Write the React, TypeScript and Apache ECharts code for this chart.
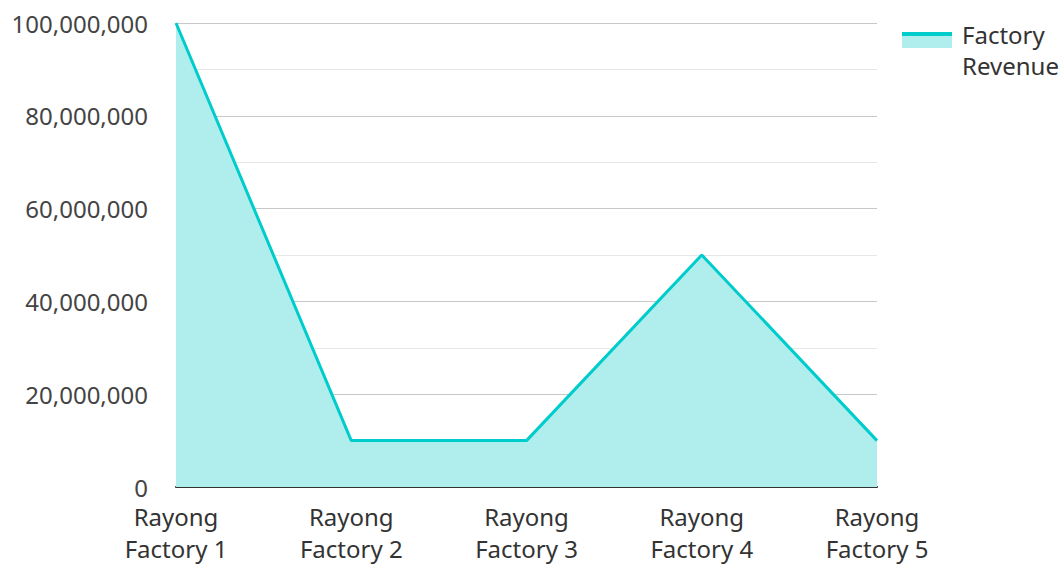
import React, { useEffect, useRef } from "react";
import * as echarts from "echarts";

const categories = [
  "Rayong\nFactory 1",
  "Rayong\nFactory 2",
  "Rayong\nFactory 3",
  "Rayong\nFactory 4",
  "Rayong\nFactory 5",
];
const revenue = [100000000, 10000000, 10000000, 50000000, 10000000];
const seriesName = "Factory Revenue";

export default function App() {
  const ref = useRef<HTMLDivElement>(null);
  useEffect(() => {
    document.body.style.margin = "0";
    const chart = echarts.init(ref.current!, null, { renderer: "svg" });
    const font = "'Noto Sans', 'Open Sans', sans-serif";
    chart.setOption({
      animation: false,
      textStyle: { fontFamily: font },
      grid: { left: 176, right: 187, top: 23, bottom: 71 },
      legend: {
        data: [seriesName],
        left: 902,
        top: 14,
        icon: "rect",
        itemWidth: 50,
        itemHeight: 62,
        itemStyle: { color: "rgba(0,0,0,0)", opacity: 0 },
        formatter: (n: string) => n.replace(" ", "\n"),
        textStyle: {
          fontSize: 24,
          color: "#333",
          lineHeight: 31,
          fontFamily: font,
        },
      },
      graphic: [
        {
          type: "rect",
          shape: { x: 902, y: 36, width: 50, height: 12 },
          style: { fill: "#b0eeee" },
          z: 100,
        },
        {
          type: "rect",
          shape: { x: 902, y: 32, width: 50, height: 4 },
          style: { fill: "#00cccc" },
          z: 100,
        },
      ],
      xAxis: {
        type: "category",
        data: categories,
        boundaryGap: false,
        axisLine: { lineStyle: { color: "#333", width: 2 } },
        axisTick: { show: false },
        axisLabel: {
          fontSize: 24,
          color: "#333",
          lineHeight: 32,
          margin: 13,
          interval: 0,
          fontFamily: font,
        },
      },
      yAxis: {
        type: "value",
        min: 0,
        max: 100000000,
        interval: 20000000,
        axisLine: { show: false },
        axisTick: { show: false },
        axisLabel: {
          fontSize: 24,
          lineHeight: 22,
          color: "#444",
          margin: 28,
          fontFamily: font,
          formatter: (v: number) => v.toLocaleString("en-US"),
        },
        splitLine: { lineStyle: { color: "#c8c8c8", width: 1 } },
        minorTick: { show: false, splitNumber: 2 },
        minorSplitLine: { show: true, lineStyle: { color: "#e6e6e6", width: 1 } },
      },
      series: [
        {
          name: seriesName,
          type: "line",
          data: revenue,
          showSymbol: false,
          symbol: "none",
          lineStyle: { color: "#00cccc", width: 3 },
          itemStyle: { color: "#00cccc" },
          areaStyle: { color: "#b0eeee", opacity: 1, origin: "start" },
        },
      ],
    });
    return () => chart.dispose();
  }, []);
  return <div ref={ref} style={{ width: 1064, height: 564 }} />;
}
